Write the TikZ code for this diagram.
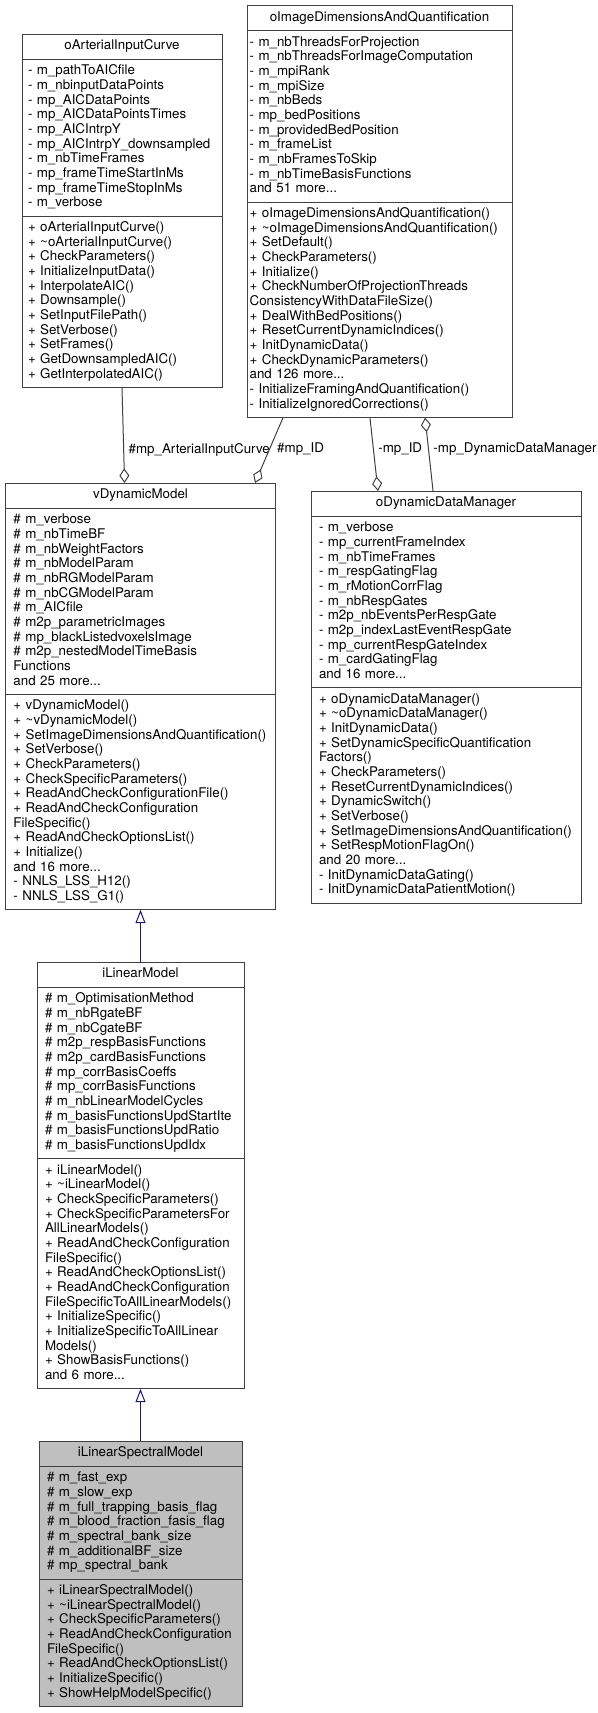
\documentclass[tikz,border=0pt]{standalone}
\usepackage{fontspec}
\setmainfont{TeX Gyre Heros}
\usetikzlibrary{arrows.meta, positioning, calc}

\definecolor{edgegrey}{HTML}{404040}
\definecolor{inhblue}{HTML}{191970}
\definecolor{curfill}{HTML}{BFBFBF}

\tikzset{
  umlfont/.style={font=\fontsize{10}{11}\selectfont},
  classpart/.style={umlfont, draw=black!75, line width=0.75pt, outer sep=0pt,
    inner ysep=3.75pt, align=left,
    execute at begin node=\strut, execute at end node=\strut},
  classhead/.style={classpart, inner ysep=4.05pt, align=center},
  boxaic/.style={text width=141pt, inner xsep=4.5pt},
  boxidq/.style={text width=194.75pt, inner xsep=2pt},
  boxwide/.style={text width=190.5pt, inner xsep=6pt},
  boxlin/.style={text width=143.25pt, inner xsep=6pt},
  boxspec/.style={text width=140.25pt, inner xsep=6pt, fill=curfill},
  usage/.style={draw=edgegrey, line width=0.75pt},
  aggr/.style={usage, -{Diamond[open, length=11pt, width=7.5pt]}},
  raggr/.style={usage, {Diamond[open, length=11pt, width=7.5pt]}-},
  inherit/.style={draw=inhblue, line width=0.75pt, -{Triangle[open, length=10pt, width=7.5pt]}},
  elabel/.style={umlfont, anchor=west},
}

\begin{document}
\begin{tikzpicture}[x=0.75pt, y=-0.75pt]
  \useasboundingbox (0,0) rectangle (598,1713);

  % oArterialInputCurve
  \node[classhead, boxaic, anchor=north west] (aic) at (22,34) {oArterialInputCurve};
  \node[classpart, boxaic, below=0pt of aic] (aic-a)
  {- m\_pathToAICfile\\ - m\_nbinputDataPoints\\ - mp\_AICDataPoints\\
   - mp\_AICDataPointsTimes\\ - mp\_AICIntrpY\\ - mp\_AICIntrpY\_downsampled\\
   - m\_nbTimeFrames\\ - mp\_frameTimeStartInMs\\ - mp\_frameTimeStopInMs\\ - m\_verbose};
  \node[classpart, boxaic, below=0pt of aic-a] (aic-m)
  {+ oArterialInputCurve()\\ + \textasciitilde oArterialInputCurve()\\ + CheckParameters()\\
   + InitializeInputData()\\ + InterpolateAIC()\\ + Downsample()\\ + SetInputFilePath()\\
   + SetVerbose()\\ + SetFrames()\\ + GetDownsampledAIC()\\ + GetInterpolatedAIC()};

  % oImageDimensionsAndQuantification
  \node[classhead, boxidq, anchor=north west] (idq) at (247,5.5) {oImageDimensionsAndQuantification};
  \node[classpart, boxidq, below=0pt of idq] (idq-a)
  {- m\_nbThreadsForProjection\\ - m\_nbThreadsForImageComputation\\ - m\_mpiRank\\
   - m\_mpiSize\\ - m\_nbBeds\\ - mp\_bedPositions\\ - m\_providedBedPosition\\
   - m\_frameList\\ - m\_nbFramesToSkip\\ - m\_nbTimeBasisFunctions\\ and 51 more...};
  \node[classpart, boxidq, below=0pt of idq-a] (idq-m)
  {+ oImageDimensionsAndQuantification()\\ + \textasciitilde oImageDimensionsAndQuantification()\\
   + SetDefault()\\ + CheckParameters()\\ + Initialize()\\ + CheckNumberOfProjectionThreads\\
   ConsistencyWithDataFileSize()\\ + DealWithBedPositions()\\ + ResetCurrentDynamicIndices()\\
   + InitDynamicData()\\ + CheckDynamicParameters()\\ and 126 more...\\
   - InitializeFramingAndQuantification()\\ - InitializeIgnoredCorrections()};

  % vDynamicModel
  \node[classhead, boxwide, anchor=north west] (vdm) at (5.5,483) {vDynamicModel};
  \node[classpart, boxwide, below=0pt of vdm] (vdm-a)
  {\# m\_verbose\\ \# m\_nbTimeBF\\ \# m\_nbWeightFactors\\ \# m\_nbModelParam\\
   \# m\_nbRGModelParam\\ \# m\_nbCGModelParam\\ \# m\_AICfile\\ \# m2p\_parametricImages\\
   \# mp\_blackListedvoxelsImage\\ \# m2p\_nestedModelTimeBasis\\ Functions\\ and 25 more...};
  \node[classpart, boxwide, below=0pt of vdm-a] (vdm-m)
  {+ vDynamicModel()\\ + \textasciitilde vDynamicModel()\\ + SetImageDimensionsAndQuantification()\\
   + SetVerbose()\\ + CheckParameters()\\ + CheckSpecificParameters()\\
   + ReadAndCheckConfigurationFile()\\ + ReadAndCheckConfiguration\\ FileSpecific()\\
   + ReadAndCheckOptionsList()\\ + Initialize()\\ and 16 more...\\ - NNLS\_LSS\_H12()\\ - NNLS\_LSS\_G1()};

  % oDynamicDataManager
  \node[classhead, boxwide, anchor=north west] (ddm) at (311,491) {oDynamicDataManager};
  \node[classpart, boxwide, below=0pt of ddm] (ddm-a)
  {- m\_verbose\\ - mp\_currentFrameIndex\\ - m\_nbTimeFrames\\ - m\_respGatingFlag\\
   - m\_rMotionCorrFlag\\ - m\_nbRespGates\\ - m2p\_nbEventsPerRespGate\\
   - m2p\_indexLastEventRespGate\\ - mp\_currentRespGateIndex\\ - m\_cardGatingFlag\\ and 16 more...};
  \node[classpart, boxwide, below=0pt of ddm-a] (ddm-m)
  {+ oDynamicDataManager()\\ + \textasciitilde oDynamicDataManager()\\ + InitDynamicData()\\
   + SetDynamicSpecificQuantification\\ Factors()\\ + CheckParameters()\\
   + ResetCurrentDynamicIndices()\\ + DynamicSwitch()\\ + SetVerbose()\\
   + SetImageDimensionsAndQuantification()\\ + SetRespMotionFlagOn()\\ and 20 more...\\
   - InitDynamicDataGating()\\ - InitDynamicDataPatientMotion()};

  % iLinearModel
  \node[classhead, boxlin, anchor=north west] (ilm) at (37,962) {iLinearModel};
  \node[classpart, boxlin, below=0pt of ilm] (ilm-a)
  {\# m\_OptimisationMethod\\ \# m\_nbRgateBF\\ \# m\_nbCgateBF\\ \# m2p\_respBasisFunctions\\
   \# m2p\_cardBasisFunctions\\ \# mp\_corrBasisCoeffs\\ \# mp\_corrBasisFunctions\\
   \# m\_nbLinearModelCycles\\ \# m\_basisFunctionsUpdStartIte\\ \# m\_basisFunctionsUpdRatio\\
   \# m\_basisFunctionsUpdIdx};
  \node[classpart, boxlin, below=0pt of ilm-a] (ilm-m)
  {+ iLinearModel()\\ + \textasciitilde iLinearModel()\\ + CheckSpecificParameters()\\
   + CheckSpecificParametersFor\\ AllLinearModels()\\ + ReadAndCheckConfiguration\\ FileSpecific()\\
   + ReadAndCheckOptionsList()\\ + ReadAndCheckConfiguration\\ FileSpecificToAllLinearModels()\\
   + InitializeSpecific()\\ + InitializeSpecificToAllLinear\\ Models()\\ + ShowBasisFunctions()\\
   and 6 more...};

  % iLinearSpectralModel
  \node[classhead, boxspec, anchor=north west] (spec) at (39,1441) {iLinearSpectralModel};
  \node[classpart, boxspec, below=0pt of spec] (spec-a)
  {\# m\_fast\_exp\\ \# m\_slow\_exp\\ \# m\_full\_trapping\_basis\_flag\\
   \# m\_blood\_fraction\_fasis\_flag\\ \# m\_spectral\_bank\_size\\ \# m\_additionalBF\_size\\
   \# mp\_spectral\_bank};
  \node[classpart, boxspec, below=0pt of spec-a] (spec-m)
  {+ iLinearSpectralModel()\\ + \textasciitilde iLinearSpectralModel()\\ + CheckSpecificParameters()\\
   + ReadAndCheckConfiguration\\ FileSpecific()\\ + ReadAndCheckOptionsList()\\
   + InitializeSpecific()\\ + ShowHelpModelSpecific()};

  % collaboration edges
  \draw[aggr] (aic-m.south) -- ($(vdm.north west)!0.441!(vdm.north east)$)
    node[elabel, pos=0.65] {\#mp\_ArterialInputCurve};
  \draw[aggr] ($(idq-m.south west)!0.136!(idq-m.south east)$) -- ($(vdm.north west)!0.924!(vdm.north east)$)
    node[elabel, pos=0.48, xshift=2pt] {\#mp\_ID};
  \draw[aggr] ($(idq-m.south west)!0.464!(idq-m.south east)$) -- ($(ddm.north west)!0.248!(ddm.north east)$)
    node[elabel, pos=0.43] {-mp\_ID};
  \draw[raggr] ($(idq-m.south west)!0.672!(idq-m.south east)$) -- ($(ddm.north west)!0.452!(ddm.north east)$)
    node[elabel, pos=0.43] {-mp\_DynamicDataManager};

  % inheritance
  \draw[inherit] (ilm.north) -- (vdm-m.south);
  \draw[inherit] (spec.north) -- (ilm-m.south);
\end{tikzpicture}
\end{document}
